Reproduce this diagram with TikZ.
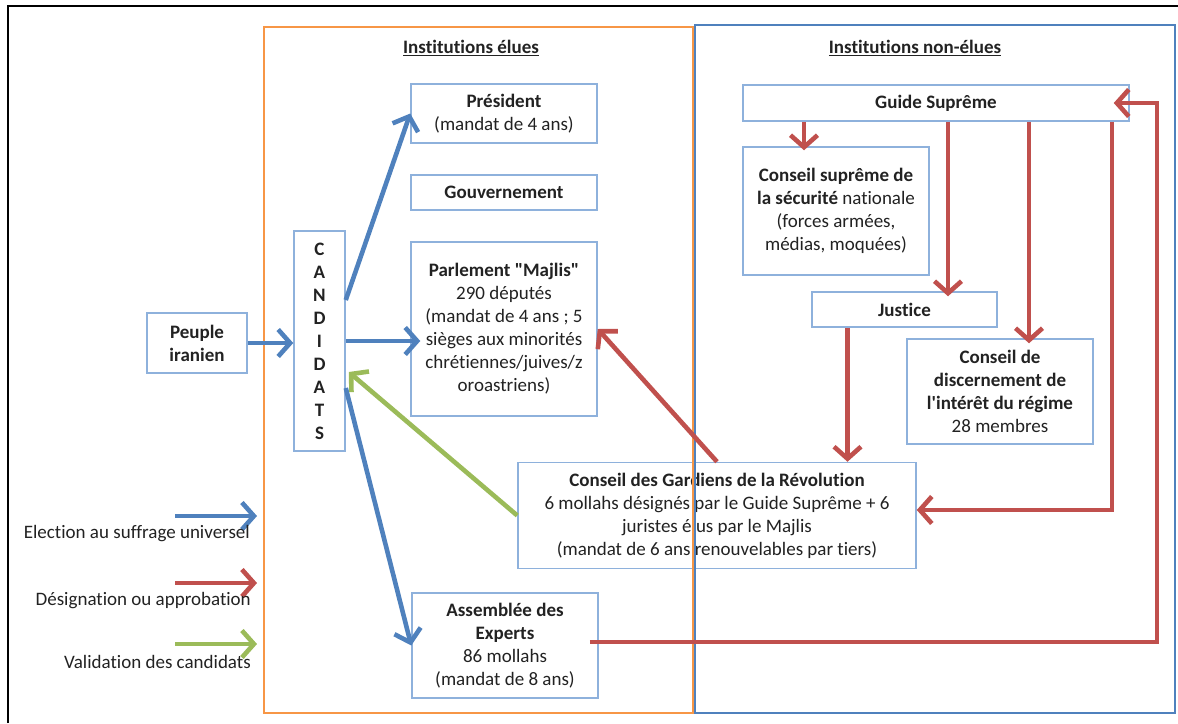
\documentclass[tikz,border=0pt]{standalone}
\usepackage{fontspec}
\setmainfont{Carlito}[Ligatures={TeXOff,NoCommon}]
\usetikzlibrary{arrows.meta}
\definecolor{cblue}{HTML}{4F81BD}
\definecolor{cred}{HTML}{C0504D}
\definecolor{cgreen}{HTML}{9BBB59}
\definecolor{corange}{HTML}{F79646}
\definecolor{cbox}{HTML}{8EB1DC}
\definecolor{ctext}{HTML}{222222}
\begin{document}
\begin{tikzpicture}[x=1pt,y=-1pt,
  every node/.style={font=\fontsize{19}{23}\selectfont, text=ctext, inner sep=0pt},
  title/.style={font=\fontsize{19}{23}\selectfont\bfseries},
  box/.style={draw=cbox, line width=1.5pt, fill=white, align=center, inner sep=0pt},
  conn/.style={line width=4.6pt, -{Straight Barb[length=12pt,width=27pt]}},
  barrow/.style={conn, draw=cblue},
  rarrow/.style={conn, draw=cred},
  garrow/.style={conn, draw=cgreen},
  frameO/.style={draw=corange, line width=2.8pt},
  frameB/.style={draw=cblue, line width=2.8pt}
]
\useasboundingbox (0,0) rectangle (1178,723);
% outer frame
\draw[line width=1.8pt, black] (8,723) |- (1178,6);

% boxes
\node[box, minimum width=186pt, minimum height=59pt] (pres) at (504,113.5) {\textbf{Président}\\(mandat de 4 ans)};
\node[box, minimum width=186pt, minimum height=35pt] (gouv) at (504,192.5) {\textbf{Gouvernement}};
\node[box, minimum width=186pt, minimum height=174pt] (parl) at (504,329) {\textbf{Parlement "Majlis"}\\290 députés\\(mandat de 4 ans ; 5\\sièges aux minorités\\chrétiennes/juives/z\\oroastriens)};
\node[box, minimum width=51pt, minimum height=220pt, font=\fontsize{19}{23}\selectfont\bfseries] (cand) at (319.5,341) {C\\A\\N\\D\\I\\D\\A\\T\\S};
\node[box, minimum width=100pt, minimum height=60pt] (peuple) at (197,343) {\textbf{Peuple}\\\textbf{iranien}};
\node[box, minimum width=398pt, minimum height=106pt] (gard) at (717,515.5) {\textbf{Conseil des Gardiens de la Révolution}\\6 mollahs désignés par le Guide Suprême + 6\\juristes élus par le Majlis\\(mandat de 6 ans renouvelables par tiers)};
\node[box, minimum width=186pt, minimum height=105pt] (assem) at (505,645.5) {\textbf{Assemblée des}\\\textbf{Experts}\\86 mollahs\\(mandat de 8 ans)};
\node[box, minimum width=386pt, minimum height=36pt] (guide) at (936,103) {\textbf{Guide Suprême}};
\node[box, minimum width=186pt, minimum height=128pt] (cs) at (836,211) {\textbf{Conseil suprême de}\\\textbf{la sécurité} nationale\\(forces armées,\\médias, moquées)};
\node[box, minimum width=185pt, minimum height=35pt] (just) at (904.5,309.5) {\textbf{Justice}};
\node[box, minimum width=186pt, minimum height=105pt] (cd) at (1000,391.5) {\textbf{Conseil de}\\\textbf{discernement de}\\\textbf{l'intérêt du régime}\\28 membres};

% frames
\draw[frameO] (264,27) rectangle (693,713);
\draw[frameB] (695,25) rectangle (1175,713);
\node[title] (t1) at (471,48) {\underline{Institutions élues}};
\node[title] (t2) at (915,48) {\underline{Institutions non-élues}};

% blue arrows
\draw[barrow] (peuple.east) -- (peuple.east -| cand.west);
\draw[barrow] ([yshift=41pt]cand.east) -- (pres.west);
\draw[barrow, shorten >=-10pt] (cand.east) -- (cand.east -| parl.west);
\draw[barrow] ([yshift=-47pt]cand.east) -- (assem.west);
% green arrow
\draw[garrow] (gard.west) -- ([yshift=-31pt,xshift=3pt]cand.east);
% red arrows
\draw[rarrow] (gard.north) -- (parl.east);
\draw[rarrow] ([xshift=-57pt]just.south) -- ([xshift=-57pt]just.south |- gard.north);
\draw[rarrow, shorten >=-4pt] ([xshift=-132pt]guide.south) -- ([xshift=-132pt]guide.south |- cs.north);
\draw[rarrow, shorten >=-5pt] ([xshift=12pt]guide.south) -- ([xshift=12pt]guide.south |- just.north);
\draw[rarrow, shorten >=-5pt] ([xshift=93pt]guide.south) -- ([xshift=93pt]guide.south |- cd.north);
\draw[rarrow] ([xshift=176pt]guide.south) |- ([yshift=5.5pt]gard.east);
\coordinate (rt) at (1157,642);
\draw[rarrow, shorten >=-16pt] ([xshift=-9pt,yshift=3.5pt]assem.east) -- (rt) |- (guide.east);

% legend
\coordinate (l1s) at (175,516); \coordinate (l1e) at (257,516);
\coordinate (l2s) at (175,583); \coordinate (l2e) at (257,583);
\coordinate (l3s) at (175,644); \coordinate (l3e) at (257,644);
\draw[barrow] (l1s) -- (l1e);
\draw[rarrow] (l2s) -- (l2e);
\draw[garrow] (l3s) -- (l3e);
\node[anchor=east] (l1t) at (250,534) {Election au suffrage universel};
\node[anchor=east] (l2t) at (251,601) {Désignation ou approbation};
\node[anchor=east] (l3t) at (251,662) {Validation des candidats};
\end{tikzpicture}
\end{document}
